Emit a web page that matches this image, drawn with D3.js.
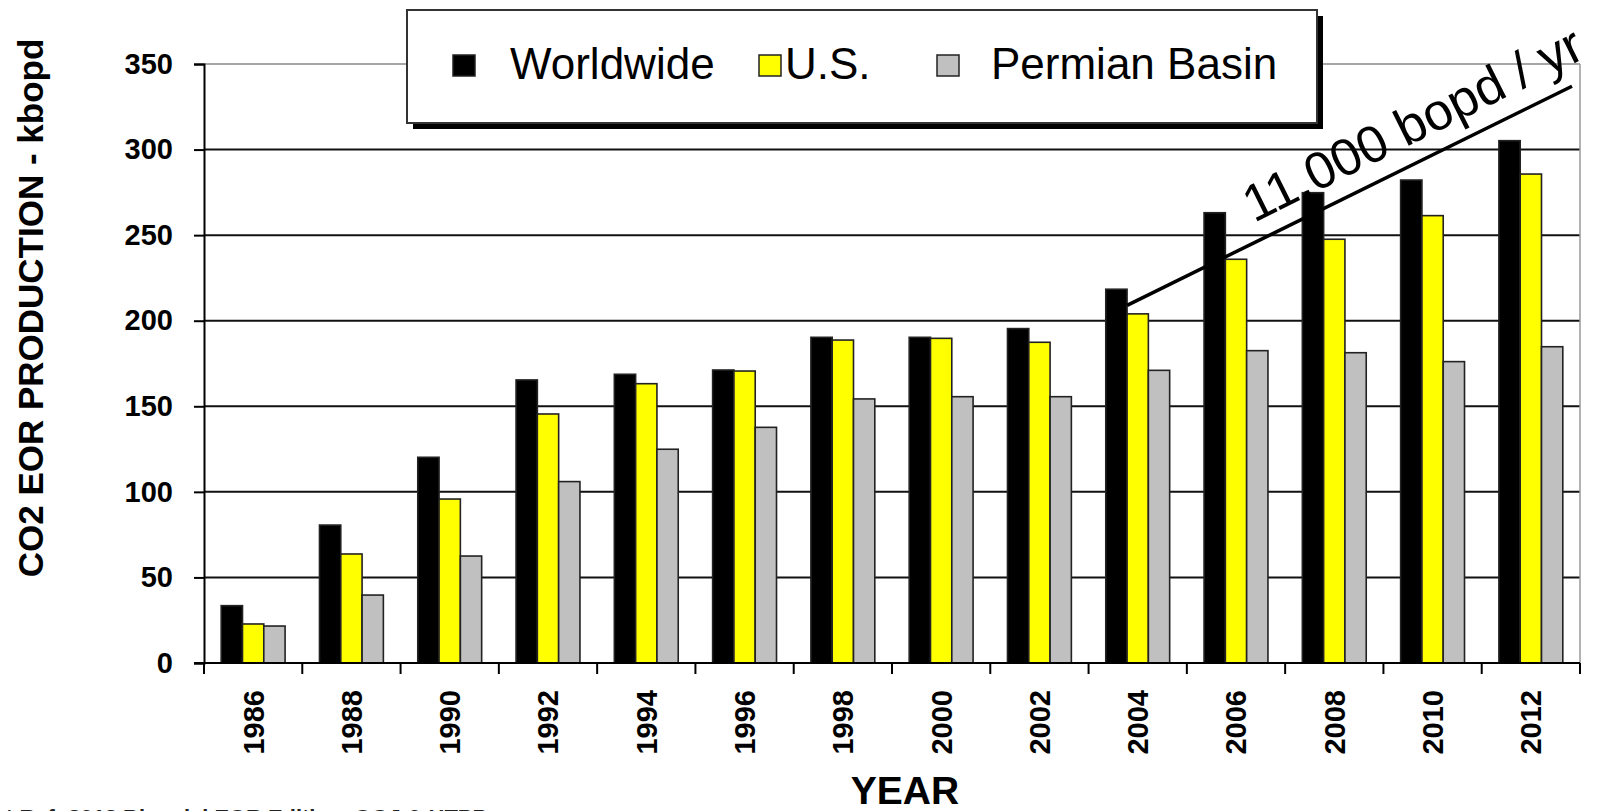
<!DOCTYPE html>
<html>
<head>
<meta charset="utf-8">
<script src="https://cdn.jsdelivr.net/npm/d3@7"></script>
<style>
  html, body { margin: 0; padding: 0; background: #fff; }
  svg { display: block; font-family: "Liberation Sans", Arial, sans-serif; }
</style>
</head>
<body>
<svg id="chart" width="1599" height="811"></svg>
<script>
// ---- data ----
const years = ["1986","1988","1990","1992","1994","1996","1998","2000","2002","2004","2006","2008","2010","2012"];
const seriesNames = ["Worldwide", "U.S.", "Permian Basin"];
const worldwide = [33.5, 80.6, 120.2, 165.4, 168.7, 171.2, 190.3, 190.3, 195.4, 218.4, 263.1, 274.8, 282.2, 305.2];
const us        = [22.8, 63.7, 95.8, 145.5, 163.2, 170.6, 188.7, 189.7, 187.4, 204.0, 235.9, 247.6, 261.4, 285.7];
const permian   = [21.6, 39.7, 62.5, 106.0, 124.9, 137.7, 154.3, 155.6, 155.6, 171.0, 182.5, 181.3, 176.1, 184.8];
const yTicks = [0, 50, 100, 150, 200, 250, 300, 350];
const trendLabel = "11,000 bopd / yr";
const trendStartYear = "2004";
const trendStartValue = 209;
const trendEndValue = 337;
const yTitle = "CO2 EOR PRODUCTION - kbopd";
const xTitle = "YEAR";
const footnote = "* Ref: 2012 Biennial EOR Edition, OGJ & HTPP";

const colors = { "Worldwide": "#000000", "U.S.": "#ffff00", "Permian Basin": "#c0c0c0" };
const values = { "Worldwide": worldwide, "U.S.": us, "Permian Basin": permian };

// ---- layout ----
const svg = d3.select("#chart");
const L = 204, R = 1580, T = 64, B = 663;

const x0 = d3.scaleBand().domain(years).range([L, R]).padding(0);
const bw = x0.bandwidth();
const x1 = d3.scaleBand().domain(seriesNames).range([bw * 0.175, bw * 0.825]).padding(0);
const y = d3.scaleLinear().domain([0, 350]).range([B, T]);

// gridlines
svg.append("g").selectAll("line")
  .data(yTicks.filter(d => d > 0 && d < 350))
  .join("line")
  .attr("x1", L).attr("x2", R)
  .attr("y1", d => y(d)).attr("y2", d => y(d))
  .attr("stroke", "#111").attr("stroke-width", 2);

// plot border top / right (grey)
svg.append("line").attr("x1", L).attr("x2", R).attr("y1", y(350)).attr("y2", y(350))
  .attr("stroke", "#888").attr("stroke-width", 1.5);
svg.append("line").attr("x1", R).attr("x2", R).attr("y1", y(350)).attr("y2", B)
  .attr("stroke", "#999").attr("stroke-width", 1.5);

// bars
const groups = svg.append("g").selectAll("g")
  .data(years)
  .join("g")
  .attr("transform", d => `translate(${x0(d)},0)`);

groups.selectAll("rect")
  .data((d, i) => seriesNames.map(s => ({ s, v: values[s][i] })))
  .join("rect")
  .attr("x", d => x1(d.s))
  .attr("y", d => y(d.v))
  .attr("width", x1.bandwidth())
  .attr("height", d => y(0) - y(d.v))
  .attr("fill", d => colors[d.s])
  .attr("stroke", "#222")
  .attr("stroke-width", 1.6);

// y axis
const yAxis = d3.axisLeft(y).tickValues(yTicks).tickSize(10).tickPadding(21);
const gy = svg.append("g").attr("transform", `translate(${L},0)`).call(yAxis);
gy.select(".domain").attr("stroke", "#000").attr("stroke-width", 2);
gy.selectAll(".tick line").attr("stroke", "#000").attr("stroke-width", 2);
gy.selectAll(".tick text")
  .attr("font-size", 29).attr("font-weight", "bold").attr("fill", "#000")
  .attr("font-family", "'Liberation Sans', Arial, sans-serif");

// x axis
svg.append("line").attr("x1", L - 10).attr("x2", R).attr("y1", B).attr("y2", B)
  .attr("stroke", "#000").attr("stroke-width", 2);
const boundaries = years.map(d => x0(d)).concat([x0(years[years.length - 1]) + bw]);
svg.append("g").selectAll("line")
  .data(boundaries)
  .join("line")
  .attr("x1", d => d).attr("x2", d => d)
  .attr("y1", B).attr("y2", B + 11)
  .attr("stroke", "#000").attr("stroke-width", 2);

svg.append("g").selectAll("text")
  .data(years)
  .join("text")
  .attr("transform", d => `translate(${x0(d) + bw / 2},690) rotate(-90)`)
  .attr("text-anchor", "end")
  .attr("dy", "0.36em")
  .attr("font-size", 29).attr("font-weight", "bold").attr("fill", "#000")
  .text(d => d);

// axis titles
svg.append("text")
  .attr("transform", "translate(43,308) rotate(-90)")
  .attr("text-anchor", "middle")
  .attr("font-size", 35).attr("font-weight", "bold").attr("fill", "#000")
  .text(yTitle);

svg.append("text")
  .attr("x", 905).attr("y", 804)
  .attr("text-anchor", "middle")
  .attr("font-size", 39).attr("font-weight", "bold").attr("fill", "#000")
  .text(xTitle);

// footnote (cut off at the bottom edge, as in the reference)
svg.append("text")
  .attr("x", 5).attr("y", 825)
  .attr("font-size", 22).attr("font-weight", "bold").attr("fill", "#222")
  .attr("textLength", 482).attr("lengthAdjust", "spacingAndGlyphs")
  .text(footnote);

// legend
const lg = svg.append("g");
lg.append("rect").attr("x", 413).attr("y", 16).attr("width", 910).attr("height", 113).attr("fill", "#000");
lg.append("rect").attr("x", 407).attr("y", 10).attr("width", 910).attr("height", 113)
  .attr("fill", "#fff").attr("stroke", "#333").attr("stroke-width", 2);
const legendItems = [
  { s: "Worldwide", sx: 453, tx: 510 },
  { s: "U.S.", sx: 759, tx: 785 },
  { s: "Permian Basin", sx: 937, tx: 991 }
];
lg.selectAll("rect.sw")
  .data(legendItems)
  .join("rect")
  .attr("class", "sw")
  .attr("x", d => d.sx).attr("y", 55)
  .attr("width", 22).attr("height", 21)
  .attr("fill", d => colors[d.s])
  .attr("stroke", "#222").attr("stroke-width", 1.5);
lg.selectAll("text")
  .data(legendItems)
  .join("text")
  .attr("x", d => d.tx).attr("y", 79)
  .attr("font-size", 44).attr("fill", "#000")
  .text(d => d.s);

// trend annotation
const tx0 = x0(trendStartYear) + x1("U.S.");
svg.append("line")
  .attr("x1", tx0).attr("y1", y(trendStartValue))
  .attr("x2", 1572).attr("y2", y(trendEndValue))
  .attr("stroke", "#000").attr("stroke-width", 3.5);

svg.append("text")
  .attr("transform", "translate(1254,223) rotate(-26.5)")
  .attr("font-size", 52).attr("fill", "#000")
  .text(trendLabel);
</script>
</body>
</html>
